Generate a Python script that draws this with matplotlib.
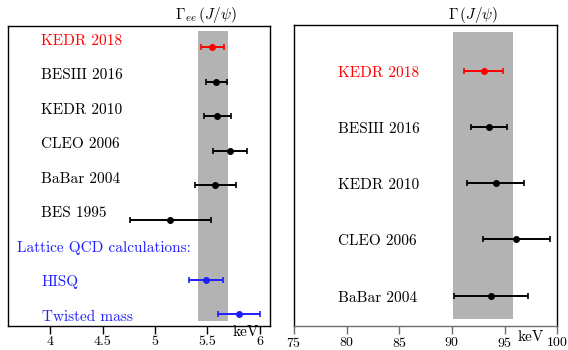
import matplotlib
matplotlib.use("Agg")
import matplotlib.pyplot as plt

plt.rcParams['font.family'] = ['cmr10', 'DejaVu Serif']
plt.rcParams['mathtext.fontset'] = 'cm'
plt.rcParams['axes.formatter.use_mathtext'] = True

# Left panel: Gamma_ee(J/psi), keV
ee_labels = ["KEDR 2018", "BESIII 2016", "KEDR 2010", "CLEO 2006", "BaBar 2004", "BES 1995"]
ee_values = [5.55, 5.585, 5.598, 5.716, 5.579, 5.149]
ee_errors = [0.11, 0.10, 0.125, 0.165, 0.195, 0.39]
ee_colors = ["red", "black", "black", "black", "black", "black"]
lqcd_header = "Lattice QCD calculations:"
lqcd_labels = ["HISQ", "Twisted mass"]
lqcd_values = [5.487, 5.808]
lqcd_errors = [0.16, 0.20]
ee_band = (5.41, 5.70)
ee_ticks = [4, 4.5, 5, 5.5, 6]
ee_ticklabels = ["4", "4.5", "5", "5.5", "6"]

# Right panel: Gamma(J/psi), keV
tot_labels = ["KEDR 2018", "BESIII 2016", "KEDR 2010", "CLEO 2006", "BaBar 2004"]
tot_values = [93.0, 93.5, 94.15, 96.1, 93.7]
tot_errors = [1.85, 1.7, 2.7, 3.2, 3.55]
tot_colors = ["red", "black", "black", "black", "black"]
tot_band = (90.05, 95.75)
tot_ticks = [75, 80, 85, 90, 95, 100]

blue = (0.12, 0.12, 1.0)
band_color = "#b3b3b3"

fig = plt.figure(figsize=(5.68, 3.5), dpi=100)
axL = fig.add_axes([8.3/568, 24.3/350, 261.7/568, 299.7/350])
axR = fig.add_axes([294/568, 24.3/350, 263.3/568, 300.4/350])

def style(ax, tickcolor='black'):
    ax.set_yticks([])
    for s in ax.spines.values():
        s.set_linewidth(1.0)
    ax.tick_params(axis='x', direction='out', length=5.5, width=1, labelsize=10, pad=2,
                   color=tickcolor)

# ---- left ----
axL.set_xlim(3.6, 6.1)
axL.set_ylim(8.26, -0.426)
axL.axvspan(ee_band[0], ee_band[1], ymin=0.016, ymax=0.984, color=band_color, lw=0, zorder=0)
for i, (lab, v, e, c) in enumerate(zip(ee_labels, ee_values, ee_errors, ee_colors)):
    axL.errorbar(v, i + 0.19, xerr=e, fmt='o', color=c, ms=4, lw=1.4, capsize=2.2, capthick=1.2, zorder=3)
    axL.text(0.125, i, lab, transform=axL.get_yaxis_transform(), ha='left', va='center', fontsize=11, color=c)
axL.text(0.032, 6, lqcd_header, transform=axL.get_yaxis_transform(), ha='left', va='center', fontsize=11, color=blue)
lq_pos = [6.94, 7.93]
for j, (lab, v, e) in enumerate(zip(lqcd_labels, lqcd_values, lqcd_errors)):
    axL.errorbar(v, lq_pos[j], xerr=e, fmt='o', color=blue, ms=4, lw=1.4, capsize=2.2, capthick=1.2, zorder=3)
    axL.text(0.128, 7 + j, lab, transform=axL.get_yaxis_transform(), ha='left', va='center', fontsize=11, color=blue)
axL.set_xticks(ee_ticks)
axL.set_xticklabels(ee_ticklabels)
style(axL)
axL.text(0.906, -0.02, "keV", transform=axL.transAxes, ha='center', va='center', fontsize=11)
axL.text(0.757, 1.037, r"$\Gamma_{ee}\,(J/\psi)$", transform=axL.transAxes, ha='center', va='center', fontsize=11)

# ---- right ----
axR.set_xlim(75, 100)
axR.set_ylim(4.498, -0.843)
axR.axvspan(tot_band[0], tot_band[1], ymin=0.022, ymax=0.977, color=band_color, lw=0, zorder=0)
for i, (lab, v, e, c) in enumerate(zip(tot_labels, tot_values, tot_errors, tot_colors)):
    axR.errorbar(v, i - 0.036, xerr=e, fmt='o', color=c, ms=4, lw=1.4, capsize=2.2, capthick=1.2, zorder=3)
    axR.text(0.167, i, lab, transform=axR.get_yaxis_transform(), ha='left', va='center', fontsize=11, color=c)
axR.set_xticks(tot_ticks)
style(axR, tickcolor='#6e6e6e')
axR.spines['bottom'].set_color('#6e6e6e')
axR.text(0.901, -0.039, "keV", transform=axR.transAxes, ha='center', va='center', fontsize=11)
axR.text(0.679, 1.034, r"$\Gamma\,(J/\psi)$", transform=axR.transAxes, ha='center', va='center', fontsize=11)

fig.savefig("out.png", dpi=100)
